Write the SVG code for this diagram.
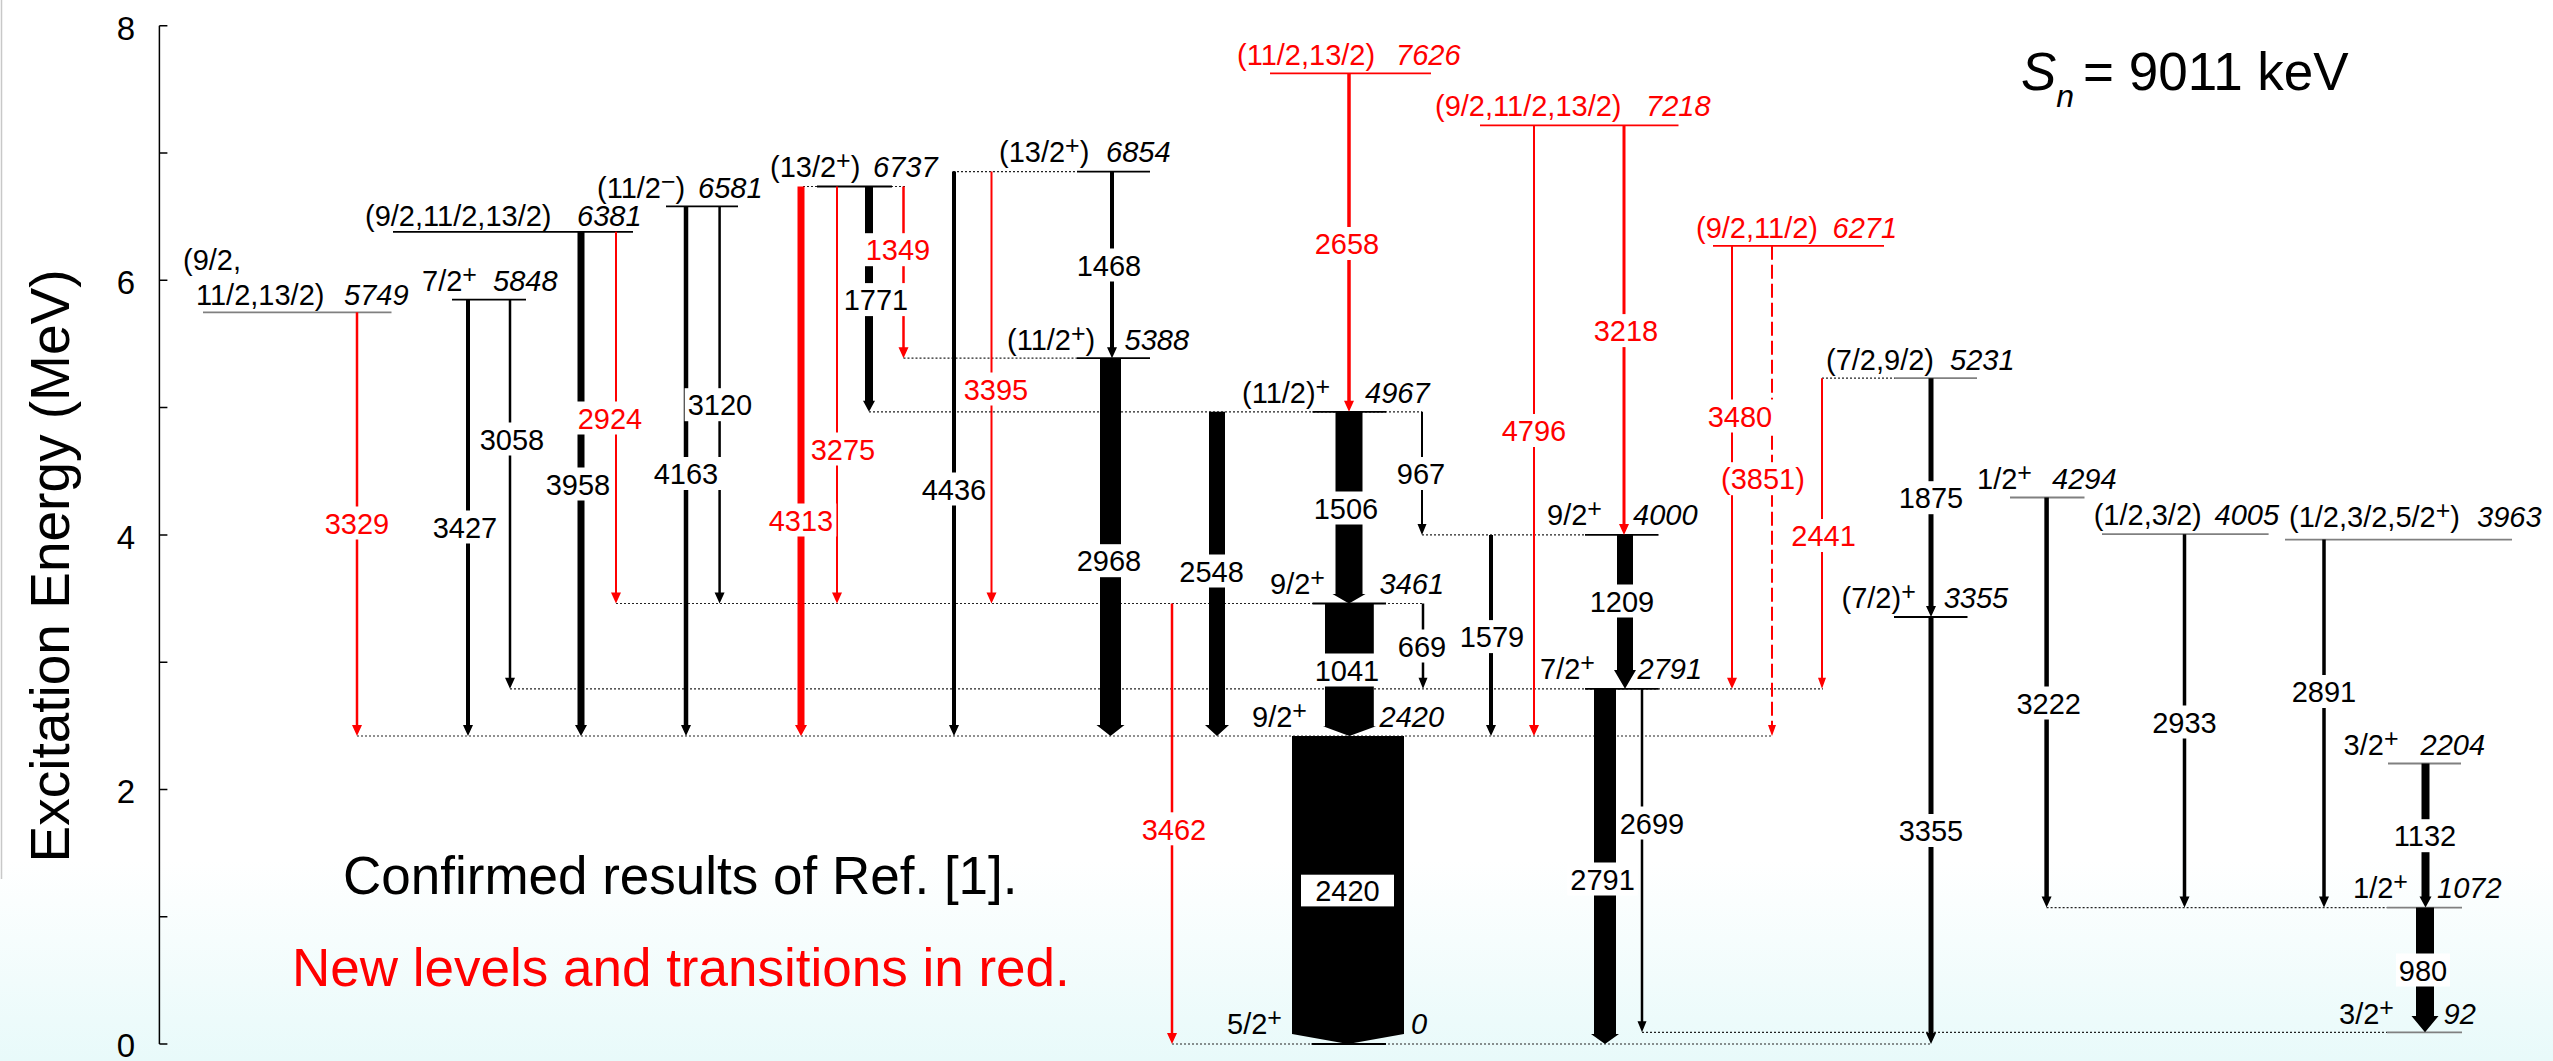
<svg xmlns="http://www.w3.org/2000/svg" width="2553" height="1061" viewBox="0 0 2553 1061">
<defs>
<linearGradient id="bg" x1="0" y1="0" x2="0" y2="1">
<stop offset="0" stop-color="#ffffff"/>
<stop offset="1" stop-color="#e8fafa"/>
</linearGradient>
<style>
text{font-family:"Liberation Sans",Arial,Helvetica,sans-serif;fill:#000}
.lv{font-size:29px}
.it{font-style:italic}
.sp{font-size:25px}
.tl{font-size:29px;text-anchor:middle}
.r{fill:#f00}
.lb{fill:#fff}
.lev{stroke:#000;stroke-width:1.8}
.levg{stroke:#808080;stroke-width:1.8}
.levr{stroke:#f00;stroke-width:1.8}
.dot{stroke:#222;stroke-width:1.2;stroke-dasharray:2 2;fill:none}
.tk{fill:#000}
.tr{fill:#f00}
.ax{stroke:#000;stroke-width:1.5;fill:none}
</style>
</defs>
<rect x="0" y="0" width="2553" height="1061" fill="#fff"/>
<rect x="0" y="860" width="2553" height="201" fill="url(#bg)"/>
<line x1="1.5" y1="0" x2="1.5" y2="879" stroke="#c8c8c8" stroke-width="1.5"/>

<g id="axis">
<path class="ax" d="M159.4 25.8V1044M159.4 25.8h8M159.4 153.1h8M159.4 280.3h8M159.4 407.6h8M159.4 534.9h8M159.4 662.2h8M159.4 789.5h8M159.4 916.7h8M159.4 1044h8"/>
<g style="font-size:33px;text-anchor:middle">
<text x="126" y="40">8</text>
<text x="126" y="294">6</text>
<text x="126" y="548.5">4</text>
<text x="126" y="803">2</text>
<text x="126" y="1057">0</text>
</g>
<text transform="translate(69,566) rotate(-90)" style="font-size:55px;text-anchor:middle">Excitation Energy (MeV)</text>
</g>

<g id="dotted">
<path class="dot" d="M357 736H1772M510 688.8H1823M616 603.5H1423M1422 534.9H1585M869 411.8H1422M903.5 358.2H1077M953 171.6H1077M803 186.5H906M1822 378.2H1895M1172 1044H1931M1642 1032.3H2387M2046.6 907.6H2387"/>
</g>

<g id="level-0"><line class="lev" x1="1311.6" y1="1044" x2="1386" y2="1044"/><text class="lv" x="1227" y="1034">5/2<tspan class="sp" dy="-8">+</tspan></text><text class="lv it" x="1411" y="1034">0</text></g>
<g id="level-92"><line class="levg" x1="2387" y1="1032.3" x2="2462" y2="1032.3"/><text class="lv" x="2339" y="1023.7">3/2<tspan class="sp" dy="-8">+</tspan></text><text class="lv it" x="2443.5" y="1023.7">92</text></g>
<g id="level-1072"><line class="levg" x1="2387" y1="907.6" x2="2462" y2="907.6"/><text class="lv" x="2353" y="897.8">1/2<tspan class="sp" dy="-8">+</tspan></text><text class="lv it" x="2437" y="897.8">1072</text></g>
<g id="level-2204"><line class="levg" x1="2388" y1="763.5" x2="2461" y2="763.5"/><text class="lv" x="2343.6" y="754.6">3/2<tspan class="sp" dy="-8">+</tspan></text><text class="lv it" x="2420.6" y="754.6">2204</text></g>
<g id="level-2420"><text class="lv" x="1252" y="727">9/2<tspan class="sp" dy="-8">+</tspan></text><text class="lv it" x="1379.5" y="727">2420</text></g>
<g id="level-2791"><line class="lev" x1="1585" y1="688.8" x2="1658.5" y2="688.8"/><text class="lv" x="1540" y="678.7">7/2<tspan class="sp" dy="-8">+</tspan></text><text class="lv it" x="1637.5" y="678.7">2791</text></g>
<g id="level-3355"><line class="lev" x1="1894" y1="617" x2="1967.5" y2="617"/><text class="lv" x="1841.5" y="608">(7/2)<tspan class="sp" dy="-8">+</tspan></text><text class="lv it" x="1943.7" y="608">3355</text></g>
<g id="level-3461"><line class="lev" x1="1312.5" y1="603.5" x2="1386" y2="603.5"/><text class="lv" x="1270" y="594">9/2<tspan class="sp" dy="-8">+</tspan></text><text class="lv it" x="1379.5" y="594">3461</text></g>
<g id="level-3963"><line class="levg" x1="2285" y1="539.6" x2="2512" y2="539.6"/><text class="lv" x="2289" y="527">(1/2,3/2,5/2<tspan class="sp" dy="-8">+</tspan><tspan dy="8">)</tspan></text><text class="lv it" x="2477" y="527">3963</text></g>
<g id="level-4000"><line class="lev" x1="1585" y1="534.9" x2="1658.5" y2="534.9"/><text class="lv" x="1547" y="525">9/2<tspan class="sp" dy="-8">+</tspan></text><text class="lv it" x="1633" y="525">4000</text></g>
<g id="level-4005"><line class="levg" x1="2102" y1="534.2" x2="2268.6" y2="534.2"/><text class="lv" x="2093.7" y="525">(1/2,3/2)</text><text class="lv it" x="2214.5" y="525">4005</text></g>
<g id="level-4294"><line class="levg" x1="2010" y1="497.5" x2="2084.5" y2="497.5"/><text class="lv" x="1977" y="489">1/2<tspan class="sp" dy="-8">+</tspan></text><text class="lv it" x="2052" y="489">4294</text></g>
<g id="level-4967"><line class="lev" x1="1312.5" y1="411.8" x2="1386" y2="411.8"/><text class="lv" x="1242" y="403">(11/2)<tspan class="sp" dy="-8">+</tspan></text><text class="lv it" x="1365" y="403">4967</text></g>
<g id="level-5231"><line class="levg" x1="1895" y1="378.2" x2="1977" y2="378.2"/><text class="lv" x="1826" y="370">(7/2,9/2)</text><text class="lv it" x="1950" y="370">5231</text></g>
<g id="level-5388"><line class="lev" x1="1077" y1="358.2" x2="1150" y2="358.2"/><text class="lv" x="1007" y="349.6">(11/2<tspan class="sp" dy="-8">+</tspan><tspan dy="8">)</tspan></text><text class="lv it" x="1124.5" y="349.6">5388</text></g>
<g id="level-5749"><line class="levg" x1="203" y1="312.3" x2="391.5" y2="312.3"/><text class="lv" x="183" y="270">(9/2,</text><text class="lv" x="196" y="305">11/2,13/2)</text><text class="lv it" x="344" y="305">5749</text></g>
<g id="level-5848"><line class="lev" x1="452" y1="299.7" x2="526" y2="299.7"/><text class="lv" x="422" y="291">7/2<tspan class="sp" dy="-8">+</tspan></text><text class="lv it" x="493" y="291">5848</text></g>
<g id="level-6271"><line class="levr" x1="1713" y1="245.8" x2="1884" y2="245.8"/><text class="lv r" x="1696" y="237.6">(9/2,11/2)</text><text class="lv it r" x="1832.5" y="237.6">6271</text></g>
<g id="level-6381"><line class="lev" x1="393" y1="231.8" x2="633" y2="231.8"/><text class="lv" x="365" y="225.6">(9/2,11/2,13/2)</text><text class="lv it" x="577" y="225.6">6381</text></g>
<g id="level-6581"><line class="lev" x1="666" y1="206.4" x2="738" y2="206.4"/><text class="lv" x="597" y="198">(11/2<tspan class="sp" dy="-8">−</tspan><tspan dy="8">)</tspan></text><text class="lv it" x="698" y="198">6581</text></g>
<g id="level-6737"><line class="lev" x1="817" y1="186.5" x2="892" y2="186.5"/><text class="lv" x="770" y="177">(13/2<tspan class="sp" dy="-8">+</tspan><tspan dy="8">)</tspan></text><text class="lv it" x="873" y="177">6737</text></g>
<g id="level-6854"><line class="lev" x1="1077" y1="171.6" x2="1150" y2="171.6"/><text class="lv" x="999" y="162">(13/2<tspan class="sp" dy="-8">+</tspan><tspan dy="8">)</tspan></text><text class="lv it" x="1106" y="162">6854</text></g>
<g id="level-7218"><line class="levr" x1="1480" y1="125.3" x2="1678.5" y2="125.3"/><text class="lv r" x="1435" y="116">(9/2,11/2,13/2)</text><text class="lv it r" x="1646" y="116">7218</text></g>
<g id="level-7626"><line class="levr" x1="1270" y1="73.4" x2="1431" y2="73.4"/><text class="lv r" x="1237" y="65.4">(11/2,13/2)</text><text class="lv it r" x="1396" y="65.4">7626</text></g>

<g id="connectors">
<polygon class="tr" points="355.75,312.3 358.25,312.3 358.25,725 362,725 357,736 352,725 355.75,725"/>
<polygon class="tk" points="466,299.7 470,299.7 470,725 473,725 468,736 463,725 466,725"/>
<polygon class="tk" points="508.75,299.7 511.25,299.7 511.25,677.8 515,677.8 510,688.8 505,677.8 508.75,677.8"/>
<polygon class="tk" points="577.5,231.8 584.5,231.8 584.5,725 587,725 581,736 575,725 577.5,725"/>
<polygon class="tr" points="615,231.8 617,231.8 617,592.5 621,592.5 616,603.5 611,592.5 615,592.5"/>
<polygon class="tk" points="683.75,206.4 688.25,206.4 688.25,725 691,725 686,736 681,725 683.75,725"/>
<polygon class="tk" points="718.35,206.4 720.85,206.4 720.85,592.5 724.6,592.5 719.6,603.5 714.6,592.5 718.35,592.5"/>
<polygon class="tr" points="797.5,186.5 804.5,186.5 804.5,725 807,725 801,736 795,725 797.5,725"/>
<polygon class="tr" points="836,186.5 838,186.5 838,592.5 842,592.5 837,603.5 832,592.5 836,592.5"/>
<polygon class="tk" points="865,186.5 873,186.5 873,400.8 875,400.8 869,411.8 863,400.8 865,400.8"/>
<polygon class="tr" points="902.25,186.5 904.75,186.5 904.75,347.2 908.5,347.2 903.5,358.2 898.5,347.2 902.25,347.2"/>
<polygon class="tk" points="952,171.6 956,171.6 956,725 959,725 954,736 949,725 952,725"/>
<polygon class="tr" points="990.5,171.6 992.5,171.6 992.5,592.5 996.5,592.5 991.5,603.5 986.5,592.5 990.5,592.5"/>
<polygon class="tk" points="1110,171.6 1114,171.6 1114,347.2 1117,347.2 1112,358.2 1107,347.2 1110,347.2"/>
<polygon class="tk" points="1100,358.2 1121,358.2 1121,725 1124.5,725 1110.5,736 1096.5,725 1100,725"/>
<polygon class="tk" points="1209,411.8 1225,411.8 1225,725 1229,725 1217,736 1205,725 1209,725"/>
<polygon class="tr" points="1170.75,603.5 1173.25,603.5 1173.25,1033 1177,1033 1172,1044 1167,1033 1170.75,1033"/>
<polygon class="tr" points="1347.25,73.4 1350.75,73.4 1350.75,400.8 1354,400.8 1349,411.8 1344,400.8 1347.25,400.8"/>
<polygon class="tk" points="1335.5,411.8 1362.5,411.8 1362.5,594 1365.5,594 1349,603.5 1332.5,594 1335.5,594"/>
<polygon class="tk" points="1325,603.5 1373.8,603.5 1373.8,726.3 1376,726.3 1349.4,736 1323,726.3 1325,726.3"/>
<polygon class="tk" points="1292,736 1404,736 1404,1034 1348,1044 1292,1034"/>
<polygon class="tk" points="1421,411.8 1423,411.8 1423,523.9 1426.5,523.9 1422,534.9 1417.5,523.9 1421,523.9"/>
<polygon class="tk" points="1421.75,603.5 1424.25,603.5 1424.25,677.8 1427.5,677.8 1423,688.8 1418.5,677.8 1421.75,677.8"/>
<polygon class="tk" points="1489,534.9 1493,534.9 1493,725 1496,725 1491,736 1486,725 1489,725"/>
<polygon class="tr" points="1533,125.3 1535,125.3 1535,725 1539,725 1534,736 1529,725 1533,725"/>
<polygon class="tr" points="1622.5,125.3 1625.5,125.3 1625.5,523.9 1629,523.9 1624,534.9 1619,523.9 1622.5,523.9"/>
<polygon class="tk" points="1617,534.9 1633,534.9 1633,670 1636,670 1625,688.8 1614,670 1617,670"/>
<polygon class="tk" points="1594,688.8 1616,688.8 1616,1034 1619,1034 1605,1044 1591,1034 1594,1034"/>
<polygon class="tk" points="1640.75,688.8 1643.25,688.8 1643.25,1021.3 1646.5,1021.3 1642,1032.3 1637.5,1021.3 1640.75,1021.3"/>
<polygon class="tr" points="1731,245.8 1733,245.8 1733,677.8 1737,677.8 1732,688.8 1727,677.8 1731,677.8"/>
<line x1="1772" y1="245.8" x2="1772" y2="725" stroke="#f00" stroke-width="2" stroke-dasharray="14 5"/>
<polygon class="tr" points="1768,725 1776,725 1772,736"/>
<polygon class="tr" points="1821,378.2 1823,378.2 1823,677.8 1826,677.8 1822,688.8 1818,677.8 1821,677.8"/>
<polygon class="tk" points="1928.5,378.2 1933.5,378.2 1933.5,606 1936,606 1931,617 1926,606 1928.5,606"/>
<polygon class="tk" points="1928.5,617 1933.5,617 1933.5,1033 1936,1033 1931,1044 1926,1033 1928.5,1033"/>
<polygon class="tk" points="2044.35,497.5 2048.85,497.5 2048.85,896.6 2051.6,896.6 2046.6,907.6 2041.6,896.6 2044.35,896.6"/>
<polygon class="tk" points="2182.75,534.2 2186.25,534.2 2186.25,896.6 2189.5,896.6 2184.5,907.6 2179.5,896.6 2182.75,896.6"/>
<polygon class="tk" points="2322.25,539.6 2325.75,539.6 2325.75,896.6 2329,896.6 2324,907.6 2319,896.6 2322.25,896.6"/>
<polygon class="tk" points="2421.5,763.5 2429.5,763.5 2429.5,896.6 2431.5,896.6 2425.5,907.6 2419.5,896.6 2421.5,896.6"/>
<polygon class="tk" points="2416,907.6 2434,907.6 2434,1016 2438.5,1016 2425,1032.3 2411.5,1016 2416,1016"/>
</g>

<g id="connector-labels">
<g class="lb">
<rect x="321.65" y="506.5" width="70.7" height="33"/>
<rect x="429.65" y="510.5" width="70.7" height="33"/>
<rect x="476.65" y="422.5" width="70.7" height="33"/>
<rect x="542.65" y="467.5" width="70.7" height="33"/>
<rect x="574.65" y="401.5" width="70.7" height="33"/>
<rect x="650.65" y="457" width="70.7" height="33"/>
<rect x="684.65" y="388.2" width="70.7" height="33"/>
<rect x="765.65" y="503.5" width="70.7" height="33"/>
<rect x="807.65" y="432.5" width="70.7" height="33"/>
<rect x="840.65" y="283.1" width="70.7" height="33"/>
<rect x="862.65" y="233.2" width="70.7" height="33"/>
<rect x="918.65" y="472.5" width="70.7" height="33"/>
<rect x="960.65" y="372.5" width="70.7" height="33"/>
<rect x="1073.65" y="248.5" width="70.7" height="33"/>
<rect x="1073.65" y="544.2" width="70.7" height="33"/>
<rect x="1176.25" y="554.5" width="70.7" height="33"/>
<rect x="1138.65" y="812.3" width="70.7" height="33"/>
<rect x="1311.65" y="227" width="70.7" height="33"/>
<rect x="1310.65" y="491.5" width="70.7" height="33"/>
<rect x="1311.65" y="653.5" width="70.7" height="33"/>
<rect x="1301" y="874.7" width="93" height="31.7"/>
<rect x="1394" y="457" width="54" height="33"/>
<rect x="1395" y="629.5" width="54" height="33"/>
<rect x="1456.65" y="620.1" width="70.7" height="33"/>
<rect x="1498.65" y="414" width="70.7" height="33"/>
<rect x="1590.65" y="314.1" width="70.7" height="33"/>
<rect x="1586.65" y="584.5" width="70.7" height="33"/>
<rect x="1567.25" y="862.5" width="70.7" height="33"/>
<rect x="1616.65" y="806.5" width="70.7" height="33"/>
<rect x="1704.65" y="399.5" width="70.7" height="33"/>
<rect x="1717.65" y="462.2" width="90.7" height="33"/>
<rect x="1788.25" y="519" width="70.7" height="33"/>
<rect x="1895.65" y="481.2" width="70.7" height="33"/>
<rect x="1895.65" y="814" width="70.7" height="33"/>
<rect x="2013.35" y="686.5" width="70.7" height="33"/>
<rect x="2149.15" y="705.5" width="70.7" height="33"/>
<rect x="2288.65" y="675" width="70.7" height="33"/>
<rect x="2389.65" y="819.2" width="70.7" height="33"/>
<rect x="2396" y="953.5" width="54" height="33"/>
</g>
<text class="tl r" x="357" y="533.7">3329</text>
<text class="tl" x="465" y="537.7">3427</text>
<text class="tl" x="512" y="449.7">3058</text>
<text class="tl" x="578" y="494.7">3958</text>
<text class="tl r" x="610" y="428.7">2924</text>
<text class="tl" x="686" y="484.2">4163</text>
<text class="tl" x="720" y="415.4">3120</text>
<text class="tl r" x="801" y="530.7">4313</text>
<text class="tl r" x="843" y="459.7">3275</text>
<text class="tl" x="876" y="310.3">1771</text>
<text class="tl r" x="898" y="260.4">1349</text>
<text class="tl" x="954" y="499.7">4436</text>
<text class="tl r" x="996" y="399.7">3395</text>
<text class="tl" x="1109" y="275.7">1468</text>
<text class="tl" x="1109" y="571.4">2968</text>
<text class="tl" x="1211.6" y="581.7">2548</text>
<text class="tl r" x="1174" y="839.5">3462</text>
<text class="tl r" x="1347" y="254.2">2658</text>
<text class="tl" x="1346" y="518.7">1506</text>
<text class="tl" x="1347" y="680.7">1041</text>
<text class="tl" x="1347.5" y="900.7">2420</text>
<text class="tl" x="1421" y="484.2">967</text>
<text class="tl" x="1422" y="656.7">669</text>
<text class="tl" x="1492" y="647.3">1579</text>
<text class="tl r" x="1534" y="441.2">4796</text>
<text class="tl r" x="1626" y="341.3">3218</text>
<text class="tl" x="1622" y="611.7">1209</text>
<text class="tl" x="1602.6" y="889.7">2791</text>
<text class="tl" x="1652" y="833.7">2699</text>
<text class="tl r" x="1740" y="426.7">3480</text>
<text class="tl r" x="1763" y="489.4">(3851)</text>
<text class="tl r" x="1823.6" y="546.2">2441</text>
<text class="tl" x="1931" y="508.4">1875</text>
<text class="tl" x="1931" y="841.2">3355</text>
<text class="tl" x="2048.7" y="713.7">3222</text>
<text class="tl" x="2184.5" y="732.7">2933</text>
<text class="tl" x="2324" y="702.2">2891</text>
<text class="tl" x="2425" y="846.4">1132</text>
<text class="tl" x="2423" y="980.7">980</text>
</g>

<g id="annotations">
<text x="2021" y="89.5" style="font-size:53px"><tspan class="it">S</tspan><tspan class="it" style="font-size:32px" dy="17">n</tspan><tspan x="2083" dy="-17">= 9011 keV</tspan></text>
<text x="343" y="894" style="font-size:53px">Confirmed results of Ref. [1].</text>
<text class="r" x="292" y="986" style="font-size:53px">New levels and transitions in red.</text>
</g>
</svg>
